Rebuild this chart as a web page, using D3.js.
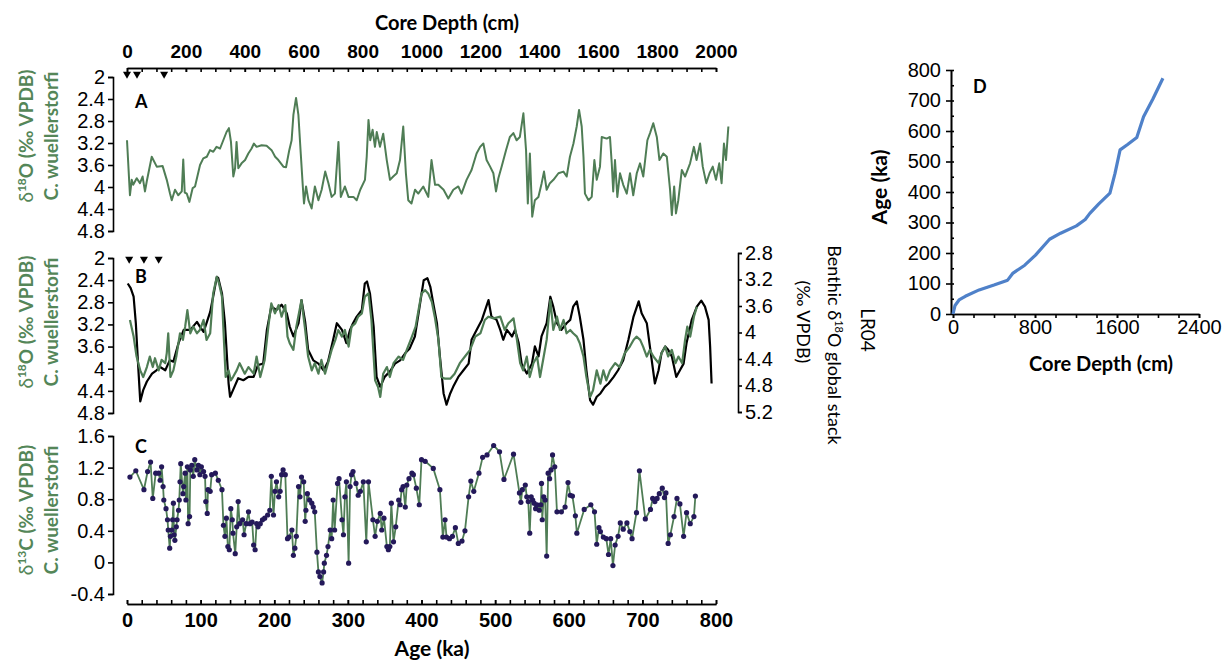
<!DOCTYPE html>
<html>
<head>
<meta charset="utf-8">
<script src="https://cdn.jsdelivr.net/npm/d3@7"></script>
<style>
  body { margin: 0; background: #fff; }
  svg { font-family: Lato, "Open Sans", sans-serif; }
  .axis path, .axis line { stroke: #000; stroke-width: 1.6; }
  .axis text { fill: #000; }
</style>
</head>
<body>
<svg id="chart" width="1229" height="663"></svg>
<script>
// ---- panel A : d18O vs core depth
var aDepth = [0,10,16,21,33,44,53,61,67,84,101,121,135,146,152,163,174,186,191,196,203,212,223,231,248,259,271,282,293,304,316,327,338,346,353,361,367,372,378,389,401,412,423,431,440,457,474,491,503,514,531,540,551,559,565,574,582,590,597,601,608,616,627,638,650,661,673,684,695,706,718,726,740,752,769,780,792,808,814,820,826,834,842,848,859,870,882,893,904,916,927,938,947,955,966,978,989,1006,1023,1034,1046,1057,1075,1091,1108,1125,1136,1153,1170,1187,1199,1210,1221,1233,1244,1253,1261,1272,1287,1300,1312,1323,1334,1346,1355,1361,1368,1376,1385,1397,1408,1416,1425,1436,1448,1465,1482,1493,1504,1516,1527,1535,1544,1550,1555,1567,1578,1587,1595,1606,1612,1629,1640,1646,1651,1657,1665,1674,1685,1697,1708,1719,1731,1742,1753,1767,1776,1787,1799,1808,1821,1833,1844,1850,1858,1864,1872,1884,1895,1912,1925,1934,1946,1955,1967,1978,1989,2000,2011,2019,2027,2034,2042];
var aD18O = [3.15,4.15,3.87,3.96,3.84,3.93,3.81,4.08,3.90,3.45,3.63,3.62,3.87,4.12,4.24,4.05,4.15,4.08,3.50,4.10,4.12,4.27,4.02,3.99,3.60,3.48,3.45,3.33,3.36,3.27,3.30,3.15,3.00,2.93,3.18,3.81,3.66,3.18,3.66,3.57,3.51,3.39,3.30,3.21,3.27,3.24,3.25,3.33,3.45,3.51,3.63,3.64,3.33,3.15,2.69,2.38,2.69,3.39,3.99,4.30,3.99,4.24,4.39,3.99,4.24,4.05,3.72,3.93,4.18,4.12,3.18,4.18,3.99,4.18,4.18,4.24,4.05,3.87,3.45,2.78,3.15,2.96,3.27,3.00,3.27,3.03,3.51,3.87,3.81,3.75,3.51,2.90,3.75,4.24,4.30,4.05,4.12,3.99,4.18,3.51,3.96,3.96,4.05,4.21,4.05,3.99,4.12,3.87,3.69,3.39,3.27,3.21,3.51,3.63,3.75,4.08,3.84,3.63,3.33,3.09,3.02,3.15,3.09,2.66,3.33,4.30,3.39,4.54,4.24,4.18,3.93,3.72,4.05,3.93,3.87,3.75,3.72,3.81,3.45,3.21,2.90,2.60,2.90,3.45,4.12,4.24,4.18,3.51,3.87,3.63,3.09,3.12,3.09,3.57,4.08,3.51,4.18,3.75,3.96,4.12,3.75,4.15,3.75,3.57,3.81,3.15,3.02,2.84,3.09,3.51,3.39,3.45,4.05,4.51,3.99,4.48,4.24,3.69,3.81,3.57,3.27,3.51,3.21,3.63,3.93,3.75,3.63,3.87,3.57,3.93,3.21,3.51,2.90];
var aMarkDepth = [0, 34, 126];

// ---- panel B : d18O (green, left axis) and LR04 stack (black, right axis) vs age
var bAge = [4,9,13,18,22,27,31,35,38,43,47,52,54,56,59,63,67,72,76,79,82,86,90,95,99,104,108,113,117,122,125,129,131,134,138,141,144,149,153,160,165,172,176,181,187,192,196,201,206,210,215,218,221,226,230,237,242,246,251,255,260,264,269,273,278,283,287,292,296,301,305,310,314,319,323,328,332,337,341,344,348,353,357,362,369,375,380,387,392,396,400,405,409,414,418,423,427,432,439,445,452,459,466,473,480,486,491,498,507,513,518,525,529,534,538,543,547,552,557,561,566,570,575,579,584,588,593,597,602,606,611,615,620,624,629,633,638,643,647,651,656,663,669,676,683,688,692,697,701,706,710,715,722,726,731,735,740,745,749,754,758,761,765,770,774];
var bD18O = [3.12,3.42,3.78,4.03,4.15,3.97,3.78,3.97,3.81,4.03,3.84,3.90,3.72,3.36,4.15,4.03,3.78,3.36,3.48,3.24,2.94,3.36,3.24,3.36,3.30,3.12,3.48,3.36,2.64,2.34,2.46,2.70,3.30,4.15,4.03,4.21,4.15,4.03,3.90,4.09,3.97,4.09,3.78,4.15,3.84,3.24,2.82,3.00,2.85,3.06,2.85,3.42,3.54,3.66,3.24,2.76,3.30,3.78,4.03,3.90,4.09,3.84,4.09,3.90,3.66,3.48,3.30,3.42,3.30,3.60,3.24,3.18,3.06,3.00,2.70,2.64,3.12,4.21,4.33,4.51,4.09,3.97,4.15,3.90,3.78,3.84,3.66,3.42,3.24,2.94,2.64,2.58,2.64,2.79,3.06,3.48,4.15,4.18,4.18,4.09,3.90,3.78,3.66,3.42,3.36,3.12,3.06,3.09,3.06,3.30,3.18,3.09,3.42,3.90,4.03,3.78,4.15,3.90,3.78,4.15,3.78,3.48,2.76,3.30,3.06,3.30,3.12,3.36,3.30,3.36,3.42,3.54,3.78,4.15,4.51,4.39,4.03,4.27,4.03,4.21,4.03,3.90,3.97,3.72,3.60,3.48,3.42,3.48,3.60,3.78,3.66,3.78,3.90,3.72,3.60,3.78,3.66,3.90,3.78,3.90,3.48,3.24,3.42,3.06,2.88];
var lrAge = [1,5,9,12,15,18,22,27,34,40,45,52,58,63,70,77,86,95,99,104,108,113,117,122,124,129,133,138,140,144,151,158,165,172,178,185,190,196,203,210,217,221,226,233,237,242,246,253,260,267,273,280,285,292,298,303,307,312,319,323,326,330,335,339,344,350,357,364,371,378,384,391,396,403,408,412,416,421,425,430,434,439,443,450,457,464,468,475,482,488,491,495,502,507,511,516,523,527,532,536,543,550,554,559,563,570,575,579,584,590,597,602,606,611,615,620,624,629,633,638,643,649,654,661,667,674,681,688,695,699,706,712,717,722,726,731,735,740,746,751,756,760,767,774,780,785,790,792,794];
var lrD18O = [3.26,3.33,3.46,3.86,4.47,5.04,4.87,4.74,4.62,4.57,4.52,4.57,4.42,4.44,4.16,3.96,3.96,3.84,3.91,3.99,3.86,3.69,3.46,3.16,3.18,3.41,3.86,4.77,4.97,4.87,4.69,4.72,4.67,4.67,4.49,4.47,3.96,3.61,3.66,3.58,3.71,3.91,4.06,3.86,3.51,3.84,4.26,4.42,4.47,4.57,4.44,4.11,3.86,3.96,4.16,3.96,3.86,3.76,3.66,3.26,3.23,3.41,3.91,4.67,4.82,4.67,4.59,4.47,4.42,4.31,4.24,4.06,3.71,3.21,3.18,3.31,3.56,3.86,4.36,4.92,5.09,4.92,4.82,4.67,4.57,4.47,4.11,3.96,3.81,3.61,3.51,3.76,3.81,3.96,4.11,3.96,4.06,3.96,4.16,4.47,4.62,4.47,4.21,4.36,4.06,3.86,3.46,3.61,3.86,3.96,3.86,3.81,3.61,3.53,3.76,4.11,4.57,5.02,5.09,4.97,4.92,4.82,4.77,4.67,4.57,4.42,4.11,3.76,3.53,3.71,3.86,4.36,4.77,4.57,4.31,4.21,4.26,4.36,4.67,4.57,4.47,4.16,3.81,3.61,3.52,3.61,3.81,4.21,4.77];
var bMarkAge = [3, 23, 43];

// ---- panel C : d13C vs age
var cAge = [4,12,23,28,32,35,39,43,45,47,49,50,53,55,56,58,59,61,62,63,64,65,67,68,70,71,72,73,76,77,79,80,82,83,85,86,88,90,92,95,97,99,101,104,106,107,109,110,113,115,120,124,129,131,133,135,137,139,141,143,144,147,149,151,153,157,159,162,165,167,170,172,174,176,178,181,184,187,191,194,196,199,201,203,206,208,210,212,215,218,220,224,226,228,230,233,235,237,240,242,243,245,248,251,253,255,258,260,262,265,267,268,271,273,276,278,280,282,286,288,292,294,296,298,301,303,305,307,311,314,317,321,325,328,334,337,340,344,346,349,353,355,357,359,362,365,369,371,373,375,378,380,383,387,389,393,397,400,405,416,425,429,432,434,438,442,446,450,455,459,464,467,471,478,483,489,498,506,512,525,533,535,537,541,543,545,547,549,551,553,555,557,560,562,563,564,566,568,570,572,574,576,578,581,584,590,595,599,602,605,609,611,621,630,635,638,641,643,647,651,654,657,660,663,667,670,674,679,683,686,692,696,704,711,714,717,720,723,727,730,732,735,738,743,747,751,756,760,765,770,772];
var cD13C = [1.08,1.16,0.92,1.15,1.27,0.81,1.13,1.13,1.04,1.21,0.96,0.79,0.68,0.54,0.41,0.18,0.33,0.41,0.54,0.75,0.35,0.28,0.45,0.54,0.66,0.79,1.02,1.25,0.87,0.96,1.13,0.79,1.21,0.49,0.58,1.17,1.23,1.09,1.30,1.17,1.23,1.11,1.21,1.15,1.09,0.77,0.62,0.92,0.90,1.11,1.13,1.04,0.92,0.47,0.33,0.56,0.20,0.16,0.68,0.54,0.37,0.11,0.45,0.77,0.49,0.54,0.35,0.49,0.64,0.49,0.51,0.22,0.16,0.49,0.45,0.49,0.54,0.56,0.60,0.66,1.09,0.60,0.90,1.02,0.83,0.90,1.11,1.17,1.11,0.30,0.32,0.41,0.09,0.18,0.33,0.96,0.83,1.08,1.02,0.52,0.66,0.87,0.79,0.75,0.70,0.64,0.13,-0.12,-0.18,-0.26,-0.12,-0.01,0.09,0.20,0.41,0.30,0.79,0.41,1.00,1.06,0.54,0.35,0.83,1.02,-0.01,0.96,1.11,1.15,1.00,0.85,0.90,1.02,0.26,1.02,0.54,0.33,0.52,0.62,0.41,0.56,0.20,0.16,0.20,0.75,0.26,0.45,0.79,0.73,0.92,0.96,0.70,0.98,1.06,1.13,1.11,0.94,0.73,1.30,1.28,1.19,0.92,0.32,0.54,0.32,0.30,0.33,0.44,0.24,0.27,0.40,0.83,1.03,0.90,1.13,1.33,1.36,1.48,1.40,1.05,1.37,0.88,0.76,0.92,0.98,0.83,0.77,0.37,0.83,0.79,0.75,0.68,0.73,0.66,0.73,1.00,0.54,0.83,0.79,0.08,1.13,1.06,1.17,1.36,1.21,0.64,0.64,0.70,1.01,0.85,0.84,0.59,0.37,0.67,0.73,0.64,0.23,0.44,0.39,0.32,0.30,0.10,0.30,-0.04,0.22,0.33,0.50,0.42,0.50,0.39,0.30,0.63,1.16,0.55,0.67,0.81,0.77,0.81,0.87,0.94,0.82,0.88,0.24,0.35,0.58,0.81,0.74,0.33,0.63,0.49,0.58,0.84];

// ---- panel D : age model
var dDepth = [0,20,59,120,255,400,533,582,700,805,942,1050,1204,1290,1335,1420,1531,1580,1630,1700,1793,1859,1950,2048];
var dAge = [0,28,46,58,79,95,111,133,160,193,245,265,289,310,330,360,396,460,538,555,579,647,705,773];

// tick values
var depthTicks = d3.range(0, 2001, 200);
var depthMinor = d3.range(0, 2001, 50);
var ageTicks = d3.range(0, 801, 100);
var ageMinor = d3.range(0, 801, 20);
var d18OTicks = [2, 2.4, 2.8, 3.2, 3.6, 4, 4.4, 4.8];
var lrTicks = [2.8, 3.2, 3.6, 4, 4.4, 4.8, 5.2];
var d13CTicks = [-0.4, 0, 0.4, 0.8, 1.2, 1.6];
var dAgeTicks = d3.range(0, 801, 100);
var dDepthTicks = [0, 800, 1600, 2400];

var green = "#4f7d55", labelGreen = "#548658", navy = "#24195a", blue = "#4f81c9";

var svg = d3.select("#chart");

var xDepth = d3.scaleLinear().domain([0, 2000]).range([127, 716]);
var xAge = d3.scaleLinear().domain([0, 800]).range([127, 716]);
var yA = d3.scaleLinear().domain([2, 4.8]).range([77, 231]);
var yB = d3.scaleLinear().domain([2, 4.8]).range([258, 413]);
var yR = d3.scaleLinear().domain([2.8, 5.2]).range([253, 412]);
var yC = d3.scaleLinear().domain([-0.4, 1.6]).range([594, 436]);
var xD = d3.scaleLinear().domain([0, 2400]).range([953, 1199]);
var yD = d3.scaleLinear().domain([0, 800]).range([314, 70]);

function fmt(d) { return String(d); }

function leftAxis(y, ticks) {
  var g = svg.append("g").attr("class", "axis").attr("transform", "translate(113,0)")
    .call(d3.axisLeft(y).tickValues(ticks).tickFormat(fmt).tickSizeInner(5).tickSizeOuter(5).tickPadding(3));
  g.selectAll("text").style("font-size", "20px");
  return g;
}

// top depth axis
svg.append("g").attr("class", "axis").attr("transform", "translate(0,68)")
  .call(d3.axisTop(xDepth).tickValues(depthMinor).tickFormat("").tickSizeInner(-4).tickSizeOuter(0));
svg.append("g").attr("class", "axis").attr("transform", "translate(0,68)")
  .call(d3.axisTop(xDepth).tickValues(depthTicks).tickFormat(fmt).tickSizeInner(-4).tickSizeOuter(0).tickPadding(10))
  .selectAll("text").style("font-size", "19px").style("font-weight", "bold");
svg.append("text").attr("x", 447).attr("y", 30).attr("text-anchor", "middle")
  .style("font-size", "20px").style("font-weight", "bold").text("Core Depth (cm)");

leftAxis(yA, d18OTicks);
leftAxis(yB, d18OTicks);
leftAxis(yC, d13CTicks);

// right LR04 axis
svg.append("g").attr("class", "axis").attr("transform", "translate(738,0)")
  .call(d3.axisRight(yR).tickValues(lrTicks).tickFormat(fmt).tickSizeInner(4).tickSizeOuter(4).tickPadding(3))
  .selectAll("text").style("font-size", "20px");

// bottom age axis
svg.append("g").attr("class", "axis").attr("transform", "translate(0,604)")
  .call(d3.axisBottom(xAge).tickValues(ageMinor).tickFormat("").tickSizeInner(-4).tickSizeOuter(0));
svg.append("g").attr("class", "axis").attr("transform", "translate(0,604)")
  .call(d3.axisBottom(xAge).tickValues(ageTicks).tickFormat(fmt).tickSizeInner(-4).tickSizeOuter(0).tickPadding(9))
  .selectAll("text").style("font-size", "20px").style("font-weight", "bold");
svg.append("text").attr("x", 432).attr("y", 656).attr("text-anchor", "middle")
  .style("font-size", "21px").style("font-weight", "bold").text("Age (ka)");

// green rotated y labels
function greenLabel(cy, iso, letter) {
  var t = svg.append("text").attr("transform", "translate(33," + cy + ") rotate(-90)")
    .attr("text-anchor", "middle").attr("fill", labelGreen)
    .style("font-size", "19px").style("font-weight", "bold");
  t.append("tspan").style("font-weight", "normal").text("\u03b4");
  t.append("tspan").attr("dy", -7).style("font-size", "12px").text(iso);
  t.append("tspan").attr("dy", 7).text(letter + " (\u2030 VPDB)");
  svg.append("text").attr("transform", "translate(58," + cy + ") rotate(-90)")
    .attr("text-anchor", "middle").attr("fill", labelGreen)
    .style("font-size", "19px").style("font-weight", "bold").text("C. wuellerstorfi");
}
greenLabel(136, "18", "O");
greenLabel(322, "18", "O");
greenLabel(510, "13", "C");

// right label
svg.append("text").attr("transform", "translate(861,330) rotate(90)").attr("text-anchor", "middle")
  .style("font-size", "19px").text("LR04");
var rt = svg.append("text").attr("transform", "translate(828,345) rotate(90)").attr("text-anchor", "middle")
  .style("font-size", "18px");
rt.append("tspan").text("Benthic \u03b4");
rt.append("tspan").attr("dy", -7).style("font-size", "11px").text("18");
rt.append("tspan").attr("dy", 7).text("O global stack");
svg.append("text").attr("transform", "translate(797,322) rotate(90)").attr("text-anchor", "middle")
  .style("font-size", "18px").text("(\u2030 VPDB)");

// series
var lineA = d3.line().x(function(d, i) { return xDepth(aDepth[i]); }).y(function(d) { return yA(d); });
svg.append("path").datum(aD18O).attr("d", lineA)
  .attr("fill", "none").attr("stroke", green).attr("stroke-width", 2).attr("stroke-linejoin", "round");

var lineLR = d3.line().x(function(d, i) { return xAge(lrAge[i]); }).y(function(d) { return yR(d); });
svg.append("path").datum(lrD18O).attr("d", lineLR)
  .attr("fill", "none").attr("stroke", "#000").attr("stroke-width", 2.2).attr("stroke-linejoin", "round");

var lineB = d3.line().x(function(d, i) { return xAge(bAge[i]); }).y(function(d) { return yB(d); });
svg.append("path").datum(bD18O).attr("d", lineB)
  .attr("fill", "none").attr("stroke", green).attr("stroke-width", 2.2).attr("stroke-linejoin", "round");

var lineC = d3.line().x(function(d, i) { return xAge(cAge[i]); }).y(function(d) { return yC(d); });
svg.append("path").datum(cD13C).attr("d", lineC)
  .attr("fill", "none").attr("stroke", green).attr("stroke-width", 1.8).attr("stroke-linejoin", "round");
svg.append("g").selectAll("circle").data(cD13C).enter().append("circle")
  .attr("cx", function(d, i) { return xAge(cAge[i]); })
  .attr("cy", function(d) { return yC(d); })
  .attr("r", 2.6).attr("fill", navy);

// depth / age markers
var tri = d3.symbol().type(d3.symbolTriangle).size(28);
svg.append("g").selectAll("path").data(aMarkDepth).enter().append("path")
  .attr("d", tri).attr("transform", function(d) { return "translate(" + xDepth(d) + ",74) rotate(180)"; });
svg.append("g").selectAll("path").data(bMarkAge).enter().append("path")
  .attr("d", tri).attr("transform", function(d) { return "translate(" + xAge(d) + ",259) rotate(180)"; });

// panel letters
[["A", 135, 108], ["B", 135, 283], ["C", 135, 453], ["D", 973, 93]].forEach(function(p) {
  svg.append("text").attr("x", p[1]).attr("y", p[2]).style("font-size", "18px").style("font-weight", "bold").text(p[0]);
});

// ---- panel D
svg.append("g").attr("class", "axis").attr("transform", "translate(951,0)")
  .call(d3.axisRight(yD).tickValues(d3.range(0, 801, 50)).tickFormat("").tickSizeInner(3).tickSizeOuter(0));
svg.append("g").attr("class", "axis").attr("transform", "translate(951,0)")
  .call(d3.axisLeft(yD).tickValues(dAgeTicks).tickFormat(fmt).tickSizeInner(5).tickSizeOuter(0).tickPadding(5))
  .selectAll("text").style("font-size", "20px");
svg.append("g").attr("class", "axis").attr("transform", "translate(0,314)")
  .call(d3.axisBottom(xD).tickValues(d3.range(0, 2401, 200)).tickFormat("").tickSizeInner(4).tickSizeOuter(0));
svg.append("g").attr("class", "axis").attr("transform", "translate(0,314)")
  .call(d3.axisBottom(xD).tickValues(dDepthTicks).tickFormat(fmt).tickSizeInner(4).tickSizeOuter(0).tickPadding(2))
  .selectAll("text").style("font-size", "20px");
svg.append("text").attr("x", 1101).attr("y", 371).attr("text-anchor", "middle")
  .style("font-size", "20px").style("font-weight", "bold").text("Core Depth (cm)");
svg.append("text").attr("transform", "translate(887,187) rotate(-90)").attr("text-anchor", "middle")
  .style("font-size", "21px").style("font-weight", "bold").text("Age (ka)");

var lineD = d3.line().x(function(d, i) { return xD(dDepth[i]); }).y(function(d) { return yD(d); });
svg.append("path").datum(dAge).attr("d", lineD)
  .attr("fill", "none").attr("stroke", blue).attr("stroke-width", 3.2).attr("stroke-linejoin", "round");
</script>
</body>
</html>
